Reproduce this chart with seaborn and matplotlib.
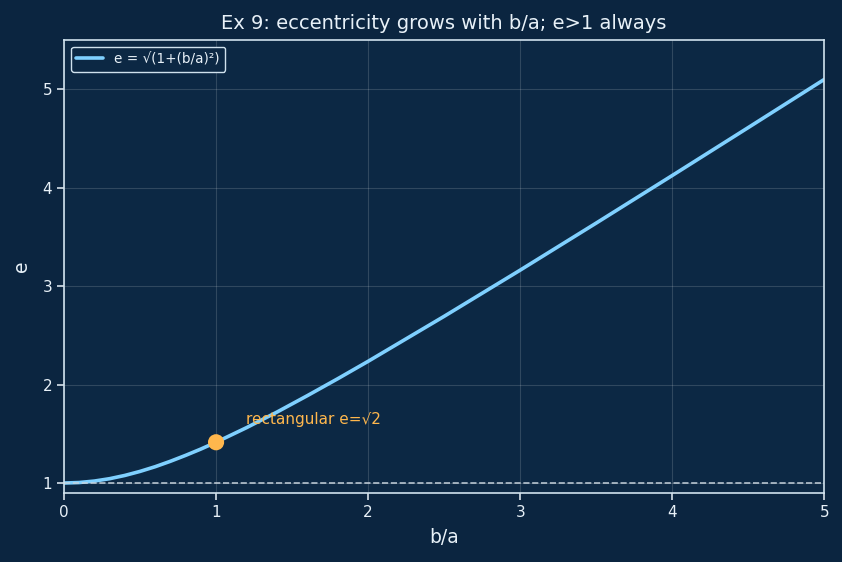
import matplotlib
matplotlib.use("Agg")
import matplotlib.pyplot as plt
import seaborn as sns
import pandas as pd

# Values
ratio = [0.0, 0.1, 0.2, 0.3, 0.4, 0.5, 0.6, 0.7, 0.8, 0.9, 1.0, 1.2, 1.4, 1.6, 1.8,
         2.0, 2.5, 3.0, 3.5, 4.0, 4.5, 5.0]
ecc = [1.000, 1.005, 1.020, 1.044, 1.077, 1.118, 1.166, 1.221, 1.281, 1.345, 1.414,
       1.562, 1.720, 1.887, 2.059, 2.236, 2.693, 3.162, 3.640, 4.123, 4.610, 5.099]
point_x = [1.0]
point_y = [1.414]
xticks = [0, 1, 2, 3, 4, 5]
yticks = [1, 2, 3, 4, 5]

BG = "#0b2540"
AX_BG = "#0c2844"
FG = "#e8f1f8"
LINE = "#7fd0ff"
ORANGE = "#ffb74d"

sns.set_theme(style="darkgrid")
plt.rcParams["font.family"] = ["DejaVu Sans"]

fig, ax = plt.subplots(figsize=(8.42, 5.62), dpi=100)
fig.patch.set_facecolor(BG)
ax.set_facecolor(AX_BG)

df = pd.DataFrame({"b/a": ratio, "e": ecc})
sns.lineplot(data=df, x="b/a", y="e", ax=ax, color=LINE, linewidth=2.6,
             label="e = √(1+(b/a)²)")
ax.axhline(1, color="#c8d4de", linestyle="--", linewidth=1.2, alpha=0.9)
sns.scatterplot(x=point_x, y=point_y, ax=ax, color=ORANGE, s=135, zorder=5,
                edgecolor="none")
ax.text(1.2, 1.6, "rectangular e=√2", color=ORANGE, fontsize=11)

ax.set_xlim(0, 5)
ax.set_ylim(0.9, 5.5)
ax.set_xticks(xticks)
ax.set_yticks(yticks)
ax.grid(True, color="white", alpha=0.15, linewidth=0.8)

ax.set_title("Ex 9: eccentricity grows with b/a; e>1 always", color=FG, fontsize=14, pad=8)
ax.set_xlabel("b/a", color=FG, fontsize=13.5, labelpad=6)
ax.set_ylabel("e", color=FG, fontsize=13.5, labelpad=8)
ax.tick_params(colors=FG, labelsize=11, length=5, width=1.1, bottom=True, left=True)
for s in ax.spines.values():
    s.set_visible(True)
    s.set_color("#d0e2ee")
    s.set_linewidth(1.2)

leg = ax.legend(loc="upper left", fontsize=9.8, facecolor=AX_BG, edgecolor="#d0e2ee",
                framealpha=1, labelcolor=FG)
leg.get_frame().set_linewidth(1.0)

fig.subplots_adjust(left=0.076, right=0.979, top=0.929, bottom=0.123)
fig.savefig("out.png", dpi=100, facecolor=BG)
